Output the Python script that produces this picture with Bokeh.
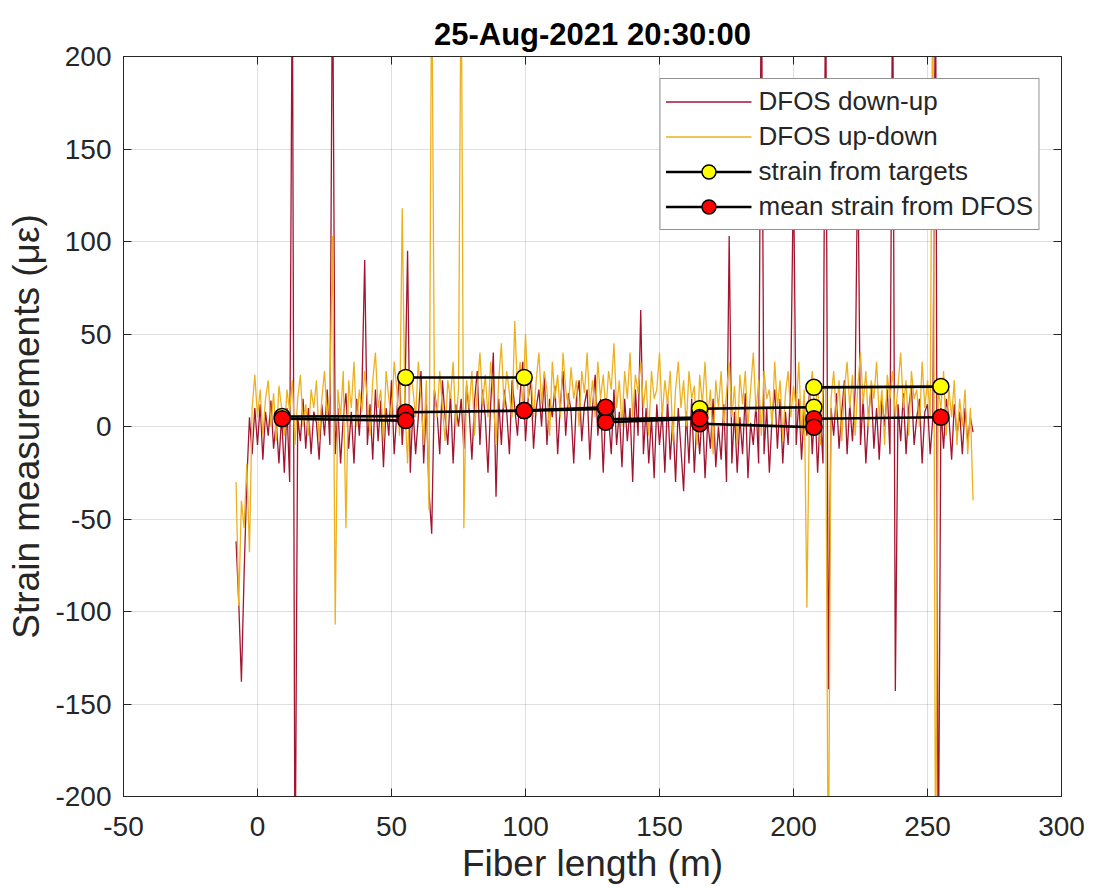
import numpy as np
from bokeh.plotting import figure
from bokeh.models import (Range1d, LinearAxis, Legend, LegendItem, FixedTicker,
                          CustomJSTickFormatter)
from bokeh.embed import file_html
from bokeh.resources import INLINE

# ---------------- data ----------------
fiber_start = -8  # first sample position (m), 1 m spacing

down_up = [
    -62, -95, -138, -80, -30, 5, -15, 10, -10, 12,
    -18, 8, -5, 14, -12, 3, -20, 6, -25, 10,
    -30, 260, -260, 5, -8, 15, -12, 10, -15, 8,
    2, -18, 12, -5, 20, -10, 260, -15, 10, -20,
    5, 18, -12, 8, -20, 15, -5, 22, 90, -10,
    12, -18, 20, -8, 14, -22, 10, -5, 25, -15,
    8, 30, -10, 15, 95, -25, 10, -15, 5, 30,
    -20, 12, -35, -58, 20, 8, -15, 25, 5, -10,
    18, -20, 12, 0, 15, -12, 22, 8, -18, 14,
    30, -10, 20, 5, -25, 12, 40, -38, 15, -10,
    20, 8, -15, 25, 10, -5, 18, 35, -8, 15,
    25, -12, 10, 20, 0, 28, -10, 15, 5, 22,
    -15, 12, 30, -5, 18, 8, -20, 15, 25, -8,
    12, 20, -18, 10, 28, -5, 15, -25, 12, 5,
    -15, 20, -10, 8, -22, 15, -8, 10, -30, 20,
    -5, 63, -15, 10, -20, 5, -28, 12, -10, 8,
    -25, 15, -18, 5, -30, 10, -12, -35, 8, -20,
    15, -25, 5, -15, 10, -28, 3, -12, 15, -22,
    0, -18, 12, -30, 103, -20, 8, -25, 5, -15,
    18, -28, 2, -10, 12, -20, 260, -15, 10, -25,
    5, 20, -12, 15, -20, 8, -10, 25, 140, -10,
    15, -18, 10, -5, 20, -15, 12, -25, 8, -20,
    260, -142, 10, -5, 18, -12, 8, 25, -15, 12,
    -8, 20, 150, -10, 15, -20, 5, 22, -12, 10,
    -18, 15, 0, 20, -15, 260, -143, 12, -8, 18,
    -15, 10, 22, -10, 5, 15, -20, 8, 12, -15,
    5, 260, -260, 10, -12, 15, 5, -18, 12, -5,
    8, -15, 10, -8, 5, -3,
]

up_down = [
    -30, -97, -40, -55, -20, -68, 10, 28, 5, 20,
    -5, 15, 25, 0, 18, -8, 22, 10, -5, 20,
    8, 25, -10, 15, 28, 0, 12, -5, 20, 10,
    25, -8, 15, 30, 5, 18, 103, -107, 20, 5,
    30, -55, 25, 10, 35, 0, 20, 8, 30, 15,
    -5, 25, 40, 10, 20, -8, 30, 15, 5, 35,
    20, -5, 118, 10, -20, 30, 20, 5, 35, 15,
    -10, 25, -45, 260, 20, 5, 30, 10, -8, 25,
    15, 35, 0, 20, 260, -55, 25, 10, 30, -5,
    20, 40, 12, 28, 5, 35, 15, -10, 25, 45,
    10, 30, 18, 5, 57, 20, 35, 10, 50, 15,
    30, 5, 25, 40, 12, 30, 20, -5, 35, 15,
    28, 5, 40, 20, 10, 32, 15, 25, 0, 30,
    18, 40, 10, 25, 5, 35, 15, 28, 8, 30,
    20, 45, 10, 25, 0, 30, 15, 40, 5, 28,
    18, 35, 10, 25, -5, 30, 15, 20, 40, 5,
    25, 12, 30, -8, 20, 35, 10, 25, 0, 30,
    15, 22, -10, 28, 12, 35, 5, 20, -15, 25,
    10, 30, 0, 18, 35, 5, 22, -10, 28, 12,
    30, 0, 20, 40, 8, 25, -5, 30, 15, 20,
    0, 35, 10, 25, -8, 18, 30, 5, 22, 10,
    35, -5, 20, -98, 15, 30, 5, 25, -10, 20,
    20, -260, 15, 30, 5, 25, -8, 20, 35, 10,
    28, -5, 22, 40, 12, 30, 0, 25, 15, 35,
    5, 20, -10, 28, 15, 30, 5, 22, 40, 10,
    25, -5, 30, 15, 20, 0, 35, 10, 25, 5,
    260, -260, 20, 10, 30, -5, 20, 5, 25, -10,
    15, 0, 20, -15, 10, -40,
]

fiber_x = [fiber_start + i for i in range(len(down_up))]

# segments between target pairs
seg_x0 = [9.2, 55.3, 99.5, 129.9, 165.0, 207.6]
seg_x1 = [55.3, 99.5, 129.9, 165.0, 207.6, 255.0]
target_y0 = [5.4, 26.5, 8.6, 3.8, 9.6, 21.2]
target_y1 = [5.6, 26.5, 9.5, 4.8, 10.4, 21.6]
dfos_y0 = [4.2, 7.7, 8.6, 2.3, 1.5, 4.2]
dfos_y1 = [3.2, 8.6, 10.4, 4.2, -0.4, 5.0]

x_ticks = [-50, 0, 50, 100, 150, 200, 250, 300]
x_tick_labels = ["-50", "0", "50", "100", "150", "200", "250", "300"]
y_ticks = [-200, -150, -100, -50, 0, 50, 100, 150, 200]
y_tick_labels = ["-200", "-150", "-100", "-50", "0", "50", "100", "150", "200"]

# ---------------- styling constants ----------------
RED = "#A2142F"
YEL = "#EDB120"
AX = "#262626"
FONT = "Liberation Sans"

p = figure(width=1101, height=894,
           x_range=Range1d(-50, 300), y_range=Range1d(-200, 200),
           output_backend="svg", toolbar_location=None,
           min_border_left=123, min_border_right=40,
           min_border_top=56, min_border_bottom=98)

p.title.text = "25-Aug-2021 20:30:00"
p.title.align = "center"
p.title.text_font = FONT
p.title.text_font_size = "31px"
p.title.text_font_style = "bold"
p.title.text_color = "#000000"

p.background_fill_color = "white"
p.border_fill_color = "white"
p.outline_line_color = AX
p.outline_line_width = 1

xb = p.below[0]
yl = p.left[0]
xb.ticker = FixedTicker(ticks=x_ticks)
yl.ticker = FixedTicker(ticks=y_ticks)
xb.major_label_overrides = dict(zip(x_ticks, x_tick_labels))
yl.major_label_overrides = dict(zip(y_ticks, y_tick_labels))
xb.axis_label = "Fiber length (m)"
yl.axis_label = "Strain measurements (με)"

blank = CustomJSTickFormatter(code="return '';")
ax_top = LinearAxis(ticker=FixedTicker(ticks=x_ticks), formatter=blank)
ax_right = LinearAxis(ticker=FixedTicker(ticks=y_ticks), formatter=blank)
p.add_layout(ax_top, "above")
p.add_layout(ax_right, "right")

for ax in [xb, yl, ax_top, ax_right]:
    ax.axis_line_color = AX
    ax.axis_line_width = 1
    ax.major_tick_line_color = AX
    ax.major_tick_in = 8
    ax.major_tick_out = 0
    ax.minor_tick_line_color = None
    ax.major_label_text_font = FONT
    ax.major_label_text_font_size = "28px"
    ax.major_label_text_color = AX
    ax.axis_label_text_font = FONT
    ax.axis_label_text_font_size = "37px"
    ax.axis_label_text_font_style = "normal"
    ax.axis_label_text_color = AX

for ax in [ax_top, ax_right]:
    ax.major_label_standoff = 0

xb.major_label_standoff = 20
yl.major_label_standoff = 12
xb.axis_label_standoff = 4
yl.axis_label_standoff = 5

p.grid.grid_line_color = AX
p.grid.grid_line_alpha = 0.15

# ---------------- glyphs ----------------
r_du = p.line(fiber_x, down_up, line_color=RED, line_width=1.3)
r_ud = p.line(fiber_x, up_down, line_color=YEL, line_width=1.3)

t_seg = p.segment(x0=seg_x0, y0=target_y0, x1=seg_x1, y1=target_y1,
                  line_color="black", line_width=2.7)
t_pts = p.scatter(x=seg_x0 + seg_x1, y=target_y0 + target_y1, marker="circle",
                  size=16, fill_color="#FFFF00", line_color="black", line_width=1.5)
d_seg = p.segment(x0=seg_x0, y0=dfos_y0, x1=seg_x1, y1=dfos_y1,
                  line_color="black", line_width=2.7)
d_pts = p.scatter(x=seg_x0 + seg_x1, y=dfos_y0 + dfos_y1, marker="circle",
                  size=16, fill_color="#FF0000", line_color="black", line_width=1.5)

legend = Legend(items=[
    LegendItem(label="DFOS down-up", renderers=[r_du]),
    LegendItem(label="DFOS up-down", renderers=[r_ud]),
    LegendItem(label="strain from targets", renderers=[t_seg, t_pts]),
    LegendItem(label="mean strain from DFOS", renderers=[d_seg, d_pts]),
])
legend.location = "top_right"
legend.margin = 22
legend.padding = 5
legend.spacing = 0
legend.glyph_width = 86
legend.glyph_height = 35
legend.label_height = 35
legend.label_standoff = 7
legend.label_text_font = FONT
legend.label_text_font_size = "26px"
legend.label_text_color = AX
legend.border_line_color = AX
legend.border_line_width = 1
legend.background_fill_color = "white"
legend.background_fill_alpha = 1.0
p.add_layout(legend)

open("out.html", "w").write(file_html(p, INLINE))
